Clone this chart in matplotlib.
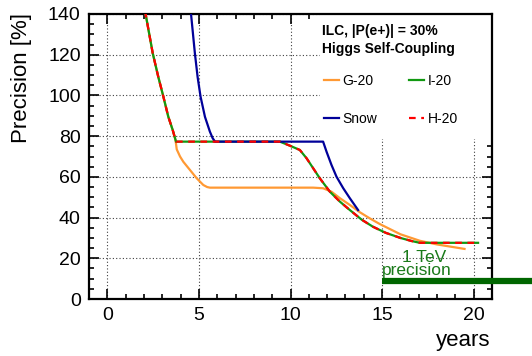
import matplotlib
matplotlib.use("Agg")
import matplotlib.pyplot as plt
from matplotlib.patches import Rectangle
from matplotlib.ticker import MultipleLocator

plt.rcParams["font.family"] = ["Liberation Sans", "DejaVu Sans"]

# G-20
g20_years = [1.85, 2.09, 2.48, 2.78, 3.06, 3.33, 3.57, 3.72, 3.79, 3.97, 4.15, 4.51, 4.88,
             5.24, 5.45, 5.6, 6.24, 11.24, 11.78, 12.24, 12.7, 13.24, 13.79, 14.33,
             14.88, 16.0, 17.06, 18.0, 19.5]
g20_vals = [150, 140, 120.7, 109.2, 99.4, 89.5, 83.0, 78.2, 73.5, 70.0, 67.4, 63.4, 59.3,
            56.0, 55.0, 54.7, 54.7, 54.7, 54.4, 52.7, 49.5, 46.2, 42.6, 39.6,
            36.8, 31.8, 28.6, 26.8, 24.6]
# I-20 (and H-20, same curve)
i20_years = [1.85, 2.09, 2.48, 2.78, 3.06, 3.33, 3.57, 3.75, 9.42, 9.97, 10.51, 10.88,
             11.24, 11.6, 12.15, 12.7, 13.24, 13.88, 14.5, 15.2, 16.0, 16.6, 17.06, 20.24]
i20_vals = [150, 140, 120.7, 109.2, 99.4, 89.5, 83.0, 77.3, 77.3, 75.3, 73.2, 69.1,
            64.2, 59.3, 52.7, 47.8, 43.7, 39.0, 35.5, 32.5, 30.0, 28.5, 27.6, 27.6]
# Snow
snow_years = [4.45, 4.57, 4.78, 4.93, 5.09, 5.33, 5.60, 5.75, 5.88, 11.78, 11.97, 12.24,
              12.51, 12.88, 13.24, 13.69]
snow_vals = [150, 140, 120.7, 109, 99.4, 89.5, 82.2, 79.0, 77.3, 77.3, 72.3, 65.8,
             60.1, 54.4, 49.5, 43.7]

tev_start, tev_end, tev_precision = 15, 30, 8.8

fig = plt.figure(figsize=(5.32, 3.56), dpi=100)
ax = fig.add_axes([89 / 532, 57 / 356, 403 / 532, 285 / 356])
ax.set_xlim(-1, 21)
ax.set_ylim(0, 140)

# grid
ax.grid(True, which="major", color="0.25", linestyle=(0, (1, 2)), linewidth=0.8, zorder=0)
ax.set_axisbelow(True)
# white legend area hides the grid
ax.add_patch(Rectangle((0.573, 0.562), 0.427, 0.438, transform=ax.transAxes,
                       facecolor="white", edgecolor="none", zorder=1))

ax.plot(g20_years, g20_vals, color="#ff9933", lw=1.6, label="G-20", zorder=3)
ax.plot(i20_years, i20_vals, color="#119911", lw=1.6, label="I-20", zorder=4)
ax.plot(snow_years, snow_vals, color="#000099", lw=1.6, label="Snow", zorder=5)
ax.plot(i20_years, i20_vals, color="#ff0000", lw=1.6, linestyle=(0, (3, 2.5)),
        label="H-20", zorder=6)

ax.hlines(tev_precision, tev_start, tev_end, color="#006600", lw=4.5, clip_on=False, zorder=7)
ax.text(16.07, 18.3, "1 TeV", color="#1a7a1a", fontsize=12.5, ha="left", va="baseline", zorder=8)
ax.text(15.0, 12.0, "precision", color="#1a7a1a", fontsize=12.5, ha="left", va="baseline", zorder=8)

ax.xaxis.set_major_locator(MultipleLocator(5))
ax.xaxis.set_minor_locator(MultipleLocator(1))
ax.yaxis.set_major_locator(MultipleLocator(20))
ax.yaxis.set_minor_locator(MultipleLocator(5))
ax.tick_params(which="both", direction="in", top=True, right=True, width=1.2,
               labelsize=14, colors="black")
ax.tick_params(which="major", length=7)
ax.tick_params(which="minor", length=3.8)
ax.tick_params(axis="x", pad=6)
ax.tick_params(axis="y", pad=6)
for s in ax.spines.values():
    s.set_linewidth(1.6)

fig.text(22 / 532, 1 - 13 / 356, "Precision [%]", rotation=90, ha="center", va="top",
         fontsize=16)
fig.text(490 / 532, 10 / 356, "years", ha="right", va="baseline", fontsize=16)

ax.text(0.578, 0.927, "ILC, |P(e+)| = 30%", transform=ax.transAxes, fontsize=10,
        fontweight="bold", ha="left", va="baseline", zorder=8)
ax.text(0.578, 0.862, "Higgs Self-Coupling", transform=ax.transAxes, fontsize=10,
        fontweight="bold", ha="left", va="baseline", zorder=8)

h, l = ax.get_legend_handles_labels()
order = [0, 2, 1, 3]
leg = ax.legend([h[i] for i in order], [l[i] for i in order], ncol=2, frameon=False,
                loc="upper left", bbox_to_anchor=(0.558, 0.823), fontsize=10,
                handlelength=1.1, handletextpad=0.25, columnspacing=2.3,
                labelspacing=1.7, borderpad=0.2)
leg.set_zorder(9)

fig.savefig("out.png", dpi=100)
